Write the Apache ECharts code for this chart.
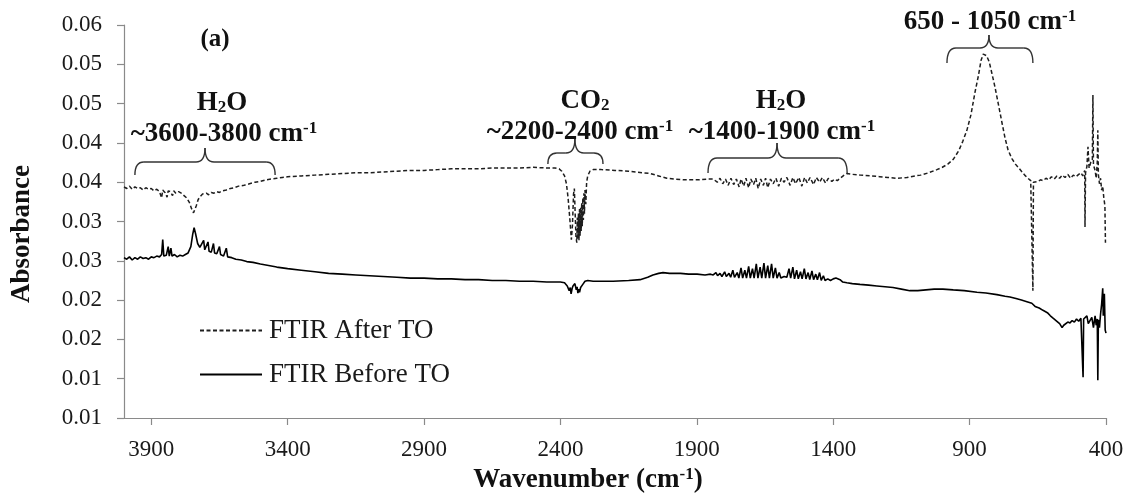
<!DOCTYPE html>
<html>
<head>
<meta charset="utf-8">
<script src="https://cdn.jsdelivr.net/npm/echarts@6/dist/echarts.min.js"></script>
<style>
  html, body { margin: 0; padding: 0; background: #fff; }
  #chart { width: 1135px; height: 498px; }
</style>
</head>
<body>
<div id="chart"></div>
<script>
// FTIR spectra: [wavenumber (cm-1), absorbance]
const seriesNames = ['FTIR After TO', 'FTIR Before TO'];

const afterTO = [
  [4000,0.0394],[3990,0.0392],[3980,0.0395],[3970,0.0391],[3960,0.0394],[3950,0.0392],
  [3940,0.0393],[3930,0.0390],[3920,0.0393],[3910,0.0391],[3900,0.0392],[3890,0.0389],
  [3880,0.0391],[3870,0.0388],[3862,0.0380],[3858,0.0390],[3850,0.0387],[3842,0.0381],
  [3838,0.0389],[3830,0.0388],[3822,0.0383],[3818,0.0389],[3810,0.0386],[3800,0.0388],
  [3790,0.0386],[3780,0.0383],[3770,0.0380],[3760,0.0374],[3752,0.0366],[3745,0.0361],
  [3740,0.0362],[3735,0.0370],[3728,0.0378],[3720,0.0382],[3712,0.0385],[3705,0.0383],
  [3698,0.0386],[3690,0.0384],[3680,0.0387],[3670,0.0386],[3660,0.0388],[3650,0.0387],
  [3640,0.0389],[3625,0.0390],[3610,0.0392],[3595,0.0393],[3580,0.0395],[3560,0.0396],
  [3540,0.0398],[3520,0.0400],[3500,0.0401],[3480,0.0403],[3460,0.0404],[3440,0.0405],
  [3420,0.0406],[3400,0.0407],[3350,0.0408],[3300,0.0409],[3250,0.0410],[3200,0.0411],
  [3150,0.0412],[3100,0.0412],[3050,0.0413],[3000,0.0414],[2950,0.0415],[2900,0.0415],
  [2850,0.0416],[2800,0.0417],[2750,0.0417],[2700,0.0417],[2650,0.0418],[2600,0.0418],
  [2550,0.0418],[2500,0.0419],[2450,0.0418],[2420,0.0418],[2405,0.0417],[2395,0.0414],
  [2385,0.0408],[2378,0.0398],[2372,0.0380],[2366,0.0355],[2360,0.0327],[2356,0.0345],
  [2352,0.0385],[2349,0.0392],[2346,0.0360],[2343,0.0330],[2340,0.0323],[2338,0.0355],
  [2336,0.0328],[2334,0.0360],[2332,0.0326],[2330,0.0366],[2328,0.0332],[2326,0.0368],
  [2324,0.0338],[2322,0.0374],[2320,0.0344],[2318,0.0380],[2316,0.0352],[2314,0.0386],
  [2312,0.0360],[2310,0.0390],[2307,0.0372],[2304,0.0400],[2300,0.0408],[2292,0.0414],
  [2280,0.0416],[2250,0.0416],
  [2200,0.0415],[2150,0.0414],[2100,0.0412],[2070,0.0411],[2040,0.0408],[2010,0.0405],
  [1980,0.0404],[1950,0.0403],[1920,0.0403],[1890,0.0403],[1860,0.0404],[1840,0.0404],
  [1825,0.0400],[1815,0.0405],[1805,0.0398],[1795,0.0404],[1785,0.0396],[1775,0.0405],
  [1765,0.0397],[1755,0.0404],[1745,0.0394],[1738,0.0404],[1728,0.0395],[1720,0.0405],
  [1710,0.0393],[1702,0.0404],[1692,0.0397],[1684,0.0405],[1675,0.0392],[1666,0.0404],
  [1656,0.0396],[1648,0.0405],[1640,0.0393],[1630,0.0404],[1620,0.0398],[1610,0.0405],
  [1600,0.0395],[1590,0.0405],[1580,0.0400],[1570,0.0406],[1558,0.0396],[1548,0.0406],
  [1538,0.0398],[1526,0.0406],[1515,0.0395],[1505,0.0406],[1495,0.0399],[1485,0.0406],
  [1472,0.0397],[1462,0.0406],[1450,0.0400],[1440,0.0406],[1428,0.0399],[1418,0.0405],
  [1405,0.0401],[1395,0.0404],[1385,0.0402],[1375,0.0405],[1360,0.0409],[1350,0.0411],
  [1330,0.0410],[1300,0.0409],[1260,0.0408],[1230,0.0407],[1200,0.0406],[1166,0.0405],
  [1130,0.0406],[1100,0.0408],[1080,0.0409],[1050,0.0412],[1020,0.0416],[1000,0.0419],
  [980,0.0423],[960,0.0429],[940,0.0440],[925,0.0452],[910,0.0466],[895,0.0486],
  [880,0.0515],[868,0.0535],[858,0.0555],[850,0.0563],[845,0.0564],[838,0.0561],
  [828,0.0553],[818,0.0538],[807,0.0521],[795,0.0500],[781,0.0475],[770,0.0456],
  [759,0.0441],[745,0.0430],[732,0.0423],[722,0.0419],[710,0.0414],[698,0.0409],
  [686,0.0405],[676,0.0402],[670,0.0400],[668,0.0262],[666,0.0400],[660,0.0398],
  [650,0.0401],[640,0.0403],[630,0.0402],[620,0.0405],[610,0.0403],[600,0.0407],
  [590,0.0404],[580,0.0408],[570,0.0405],[560,0.0409],[550,0.0406],[540,0.0410],
  [530,0.0405],[520,0.0409],[510,0.0407],[500,0.0410],[492,0.0412],[485,0.0408],
  [478,0.0415],[477,0.0343],[475,0.0412],[470,0.0420],[466,0.0445],[462,0.0418],
  [456,0.0425],[450,0.0428],[448,0.0511],[446,0.0422],[440,0.0415],[436,0.0405],
  [432,0.0425],[430,0.0466],[428,0.0410],[424,0.0398],[420,0.0405],[416,0.0390],
  [412,0.0395],[408,0.0380],[404,0.0370],[402,0.0323]
];

const beforeTO = [
  [4000,0.0304],[3990,0.0302],[3980,0.0305],[3970,0.0301],[3960,0.0304],[3950,0.0302],
  [3940,0.0305],[3930,0.0303],[3920,0.0304],[3910,0.0302],[3900,0.0305],[3890,0.0304],
  [3880,0.0306],[3870,0.0305],[3862,0.0308],[3858,0.0327],[3854,0.0306],[3845,0.0307],
  [3838,0.0318],[3834,0.0306],[3828,0.0316],[3824,0.0306],[3815,0.0308],[3805,0.0305],
  [3795,0.0307],[3785,0.0306],[3775,0.0308],[3765,0.0310],[3755,0.0318],[3748,0.0334],
  [3743,0.0342],[3738,0.0335],[3730,0.0322],[3722,0.0317],[3715,0.0315],[3708,0.0326],
  [3704,0.0314],[3698,0.0313],[3692,0.0324],[3688,0.0312],[3680,0.0311],[3672,0.0322],
  [3668,0.0310],[3660,0.0309],[3650,0.0318],[3646,0.0308],[3635,0.0306],[3625,0.0316],
  [3620,0.0305],[3605,0.0304],[3590,0.0302],[3570,0.0301],[3550,0.0299],[3527,0.0298],
  [3500,0.0296],[3470,0.0294],[3440,0.0292],[3400,0.0290],[3350,0.0288],[3300,0.0286],
  [3250,0.0284],[3200,0.0283],[3150,0.0282],[3100,0.0281],[3050,0.0280],[3000,0.0279],
  [2950,0.0278],[2900,0.0278],[2850,0.0277],[2800,0.0277],[2750,0.0276],[2700,0.0276],
  [2650,0.0275],[2600,0.0275],[2550,0.0274],[2500,0.0274],[2450,0.0273],[2400,0.0273],
  [2385,0.0272],[2375,0.0268],[2368,0.0262],[2364,0.0266],[2361,0.0258],[2357,0.0265],
  [2354,0.0268],[2347,0.0271],[2342,0.0263],[2339,0.0267],[2336,0.0259],[2333,0.0264],
  [2330,0.0260],[2326,0.0266],[2318,0.0270],[2310,0.0274],[2300,0.0275],
  [2280,0.0274],[2250,0.0274],[2207,0.0274],[2150,0.0275],[2108,0.0276],[2080,0.0279],
  [2061,0.0282],[2040,0.0284],[2024,0.0285],[2000,0.0284],[1960,0.0284],[1930,0.0283],
  [1899,0.0283],[1870,0.0282],[1850,0.0283],[1840,0.0282],[1830,0.0285],[1824,0.0281],
  [1815,0.0284],[1808,0.0280],[1798,0.0286],[1792,0.0280],[1782,0.0284],[1776,0.0279],
  [1768,0.0288],[1762,0.0279],[1752,0.0285],[1746,0.0278],[1738,0.0291],[1732,0.0278],
  [1724,0.0288],[1718,0.0278],[1710,0.0293],[1704,0.0278],[1696,0.0290],[1690,0.0278],
  [1682,0.0296],[1676,0.0278],[1668,0.0292],[1662,0.0278],[1654,0.0297],[1648,0.0278],
  [1640,0.0294],[1634,0.0278],[1626,0.0296],[1620,0.0278],[1612,0.0291],[1606,0.0278],
  [1598,0.0285],[1592,0.0278],[1580,0.0280],[1570,0.0279],[1562,0.0290],[1556,0.0278],
  [1548,0.0292],[1542,0.0277],[1534,0.0288],[1528,0.0277],[1520,0.0286],[1514,0.0277],
  [1506,0.0290],[1500,0.0277],[1492,0.0285],[1486,0.0276],[1478,0.0287],[1472,0.0276],
  [1464,0.0283],[1458,0.0276],[1450,0.0285],[1444,0.0275],[1436,0.0281],[1430,0.0275],
  [1420,0.0277],[1410,0.0275],[1400,0.0277],[1390,0.0278],[1383,0.0279],[1375,0.0276],
  [1365,0.0273],[1350,0.0272],[1330,0.0271],[1302,0.0270],[1270,0.0269],[1240,0.0268],
  [1210,0.0267],[1181,0.0266],[1150,0.0264],[1119,0.0262],[1090,0.0262],[1060,0.0263],
  [1030,0.0264],[998,0.0264],[960,0.0263],[920,0.0262],[873,0.0260],[840,0.0259],
  [800,0.0257],[770,0.0255],[752,0.0254],[730,0.0252],[710,0.0250],[690,0.0248],
  [672,0.0246],[660,0.0242],[645,0.0240],[631,0.0237],[615,0.0234],[604,0.0230],
  [594,0.0227],[580,0.0223],[570,0.0220],[561,0.0215],[555,0.0218],[548,0.0219],
  [540,0.0222],[532,0.0221],[524,0.0224],[516,0.0222],[508,0.0226],[500,0.0223],
  [492,0.0227],[486,0.0229],[484,0.0152],[482,0.0226],[476,0.0224],[470,0.0230],
  [465,0.0220],[459,0.0222],[452,0.0228],[446,0.0215],[440,0.0230],[436,0.0218],
  [432,0.0226],[430,0.0148],[428,0.0225],[424,0.0215],[420,0.0232],[416,0.0245],
  [412,0.0265],[410,0.0230],[406,0.0258],[403,0.0212],[400,0.0208]
];

// Axis ticks and their printed labels (two-decimal rounding of the 0.005 steps)
const xTickValues = [3900, 3400, 2900, 2400, 1900, 1400, 900, 400];
const yTickValues = [0.010, 0.015, 0.020, 0.025, 0.030, 0.035, 0.040, 0.045, 0.050, 0.055, 0.060];
const yTickLabels = ['0.01', '0.01', '0.02', '0.02', '0.03', '0.03', '0.04', '0.04', '0.05', '0.05', '0.06'];

const SERIF = '"Liberation Serif", "Times New Roman", serif';
const AXIS_GRAY = '#8a8a8a';

const chart = echarts.init(document.getElementById('chart'), null, { renderer: 'canvas' });

const option = {
  animation: false,
  backgroundColor: '#fff',
  grid: { left: 124, right: 29, top: 25, bottom: 80, containLabel: false },
  xAxis: {
    type: 'value',
    min: 400,
    max: 4000,
    inverse: true,
    axisLine: { show: true, lineStyle: { color: AXIS_GRAY, width: 1.2 } },
    axisTick: { show: true, inside: false, length: 7, lineStyle: { color: AXIS_GRAY, width: 1.2 },
                customValues: xTickValues },
    axisLabel: { customValues: xTickValues, margin: 20, color: '#1a1a1a',
                 fontFamily: SERIF, fontSize: 23,
                 formatter: function (v) { return String(v); } },
    splitLine: { show: false }
  },
  yAxis: {
    type: 'value',
    min: 0.01,
    max: 0.06,
    interval: 0.005,
    axisLine: { show: true, lineStyle: { color: AXIS_GRAY, width: 1.2 } },
    axisTick: { show: true, inside: false, length: 7, lineStyle: { color: AXIS_GRAY, width: 1.2 },
                customValues: yTickValues },
    axisLabel: {
      customValues: yTickValues,
      margin: 22, color: '#1a1a1a', fontFamily: SERIF, fontSize: 23,
      formatter: function (v) {
        const i = Math.round((v - yTickValues[0]) / 0.005);
        return yTickLabels[i] !== undefined ? yTickLabels[i] : '';
      }
    },
    splitLine: { show: false }
  },
  legend: {
    orient: 'vertical',
    left: 194,
    top: 312,
    itemWidth: 62,
    itemHeight: 16,
    itemGap: 17,
    itemStyle: { opacity: 0 },
    textStyle: { fontFamily: SERIF, fontSize: 27, color: '#1a1a1a', padding: [0, 0, 0, 2] },
    data: seriesNames
  },
  series: [
    {
      name: seriesNames[0],
      type: 'line',
      data: afterTO,
      symbol: 'none',
      showSymbol: false,
      lineStyle: { color: '#1e1e1e', width: 1.5, type: [4, 2.5] },
      itemStyle: { color: '#1e1e1e' },
      z: 3
    },
    {
      name: seriesNames[1],
      type: 'line',
      data: beforeTO,
      symbol: 'none',
      showSymbol: false,
      lineStyle: { color: '#000', width: 1.6 },
      itemStyle: { color: '#000' },
      z: 2
    }
  ]
};
chart.setOption(option);

// Annotation text styles (bold serif with sub/superscripts)
const richBold = {
  b: { fontFamily: SERIF, fontWeight: 'bold', fontSize: 27, fill: '#111' },
  a: { fontFamily: SERIF, fontWeight: 'bold', fontSize: 25, fill: '#111' },
  sub: { fontFamily: SERIF, fontWeight: 'bold', fontSize: 17, fill: '#111', verticalAlign: 'bottom', padding: [9, 0, 0, 0] },
  sup: { fontFamily: SERIF, fontWeight: 'bold', fontSize: 17, fill: '#111', verticalAlign: 'top', padding: [0, 0, 9, 0] }
};

function label(text, x, y, extra) {
  return Object.assign({
    type: 'text', x: x, y: y, z: 10, silent: true,
    style: { text: text, rich: richBold, align: 'center', verticalAlign: 'middle',
             font: 'bold 27px ' + SERIF, fill: '#111' }
  }, extra || {});
}

// Curly brace spanning two wavenumbers, opening downward, tip pointing up
function brace(wnFrom, wnTo, wnTip, yBase, yLine, yTip) {
  const x1 = chart.convertToPixel({ xAxisIndex: 0 }, wnFrom);
  const x2 = chart.convertToPixel({ xAxisIndex: 0 }, wnTo);
  const xt = chart.convertToPixel({ xAxisIndex: 0 }, wnTip);
  const r = 9;
  const st = { stroke: '#333', lineWidth: 1.4, fill: null };
  const seg = (a, b, c, d) => ({ type: 'line', silent: true, z: 9, shape: { x1: a, y1: b, x2: c, y2: d }, style: st });
  const q = (a, b, cx, cy, c, d) => ({ type: 'bezierCurve', silent: true, z: 9,
    shape: { x1: a, y1: b, cpx1: cx, cpy1: cy, x2: c, y2: d }, style: st });
  return [
    q(x1, yBase, x1, yLine, x1 + r, yLine),
    seg(x1 + r, yLine, xt - r, yLine),
    q(xt - r, yLine, xt, yLine, xt, yTip),
    q(xt, yTip, xt, yLine, xt + r, yLine),
    seg(xt + r, yLine, x2 - r, yLine),
    q(x2 - r, yLine, x2, yLine, x2, yBase)
  ];
}

const graphics = [].concat(
  [
    label('{a|(a)}', 215, 40),
    label('{b|H}{sub|2}{b|O}', 222, 103),
    label('{b|~3600-3800 cm}{sup|-1}', 224, 134),
    label('{b|CO}{sub|2}', 585, 101),
    label('{b|~2200-2400 cm}{sup|-1}', 580, 132),
    label('{b|H}{sub|2}{b|O}', 781, 101),
    label('{b|~1400-1900 cm}{sup|-1}', 782, 132),
    label('{b|650 - 1050 cm}{sup|-1}', 990, 22),
    // axis titles
    label('{t|Wavenumber (cm}{ts|-1}{t|)}', 588, 480, {
      style: { text: '{t|Wavenumber (cm}{ts|-1}{t|)}', align: 'center', verticalAlign: 'middle',
        rich: {
          t: { fontFamily: SERIF, fontWeight: 'bold', fontSize: 27, fill: '#111' },
          ts: { fontFamily: SERIF, fontWeight: 'bold', fontSize: 17, fill: '#111', verticalAlign: 'top', padding: [0, 0, 9, 0] }
        } }
    }),
    {
      type: 'text', x: 22, y: 234, rotation: Math.PI / 2, z: 10, silent: true,
      style: { text: 'Absorbance', align: 'center', verticalAlign: 'middle',
               font: 'bold 27px ' + SERIF, fill: '#111' }
    }
  ],
  brace(3960, 3446, 3703, 175, 162, 148),
  brace(2446, 2244, 2347, 164, 153, 139),
  brace(1859, 1349, 1606, 173, 158, 143),
  brace(983, 668, 829, 63, 48, 35)
);

chart.setOption({ graphic: { elements: graphics } });
</script>
</body>
</html>
